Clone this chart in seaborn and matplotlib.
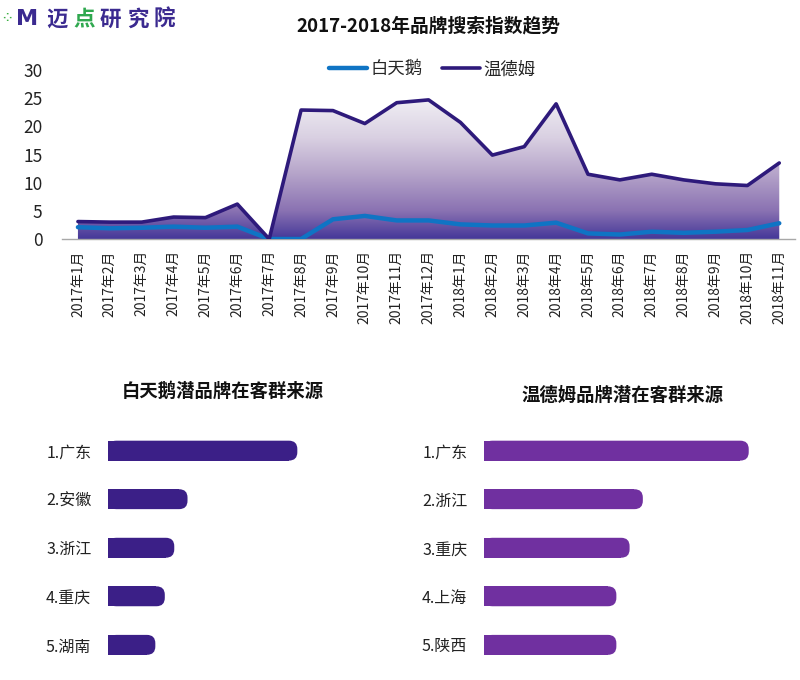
import numpy as np
import pandas as pd
import seaborn as sns
import matplotlib.pyplot as plt
from matplotlib.colors import LinearSegmentedColormap
from matplotlib.patches import FancyBboxPatch

# Data
months = ['2017年%d月' % m for m in range(1, 13)] + ['2018年%d月' % m for m in range(1, 12)]
baitiane = [2.1, 1.9, 2.0, 2.2, 2.0, 2.2, 0.0, 0.0, 3.5, 4.1, 3.3, 3.3,
            2.6, 2.4, 2.4, 2.9, 1.0, 0.8, 1.3, 1.1, 1.3, 1.6, 2.8]
wendemu = [3.1, 3.0, 3.0, 3.9, 3.8, 6.2, 0.0, 22.9, 22.8, 20.5, 24.2, 24.7,
           20.7, 14.9, 16.4, 24.0, 11.5, 10.5, 11.5, 10.5, 9.8, 9.5, 13.5]

bt_regions = ['1.广东', '2.安徽', '3.浙江', '4.重庆', '5.湖南']
bt_values = [100, 42, 35, 30, 25]
wd_regions = ['1.广东', '2.浙江', '3.重庆', '4.上海', '5.陕西']
wd_values = [100, 60, 55, 50, 50]

sns.set_theme(style='white')
plt.rcParams['font.family'] = ['Noto Sans CJK SC', 'DejaVu Sans']
plt.rcParams['axes.unicode_minus'] = False

fig = plt.figure(figsize=(8, 6.8), dpi=100)

# ---- top trend chart
ax = fig.add_axes([0.0775, 0.6485, 0.9165, 0.2485])
df = pd.DataFrame({'x': np.arange(len(months)), '白天鹅': baitiane, '温德姆': wendemu})

# gradient fill under 温德姆
cmap = LinearSegmentedColormap.from_list('grad', [
    (0.0, '#453899'), (0.2, '#8a72b2'), (0.48, '#b8a7cb'),
    (0.72, '#d9d0e2'), (1.0, '#f1eff4')])
grad = np.linspace(0, 1, 256).reshape(-1, 1)
poly = ax.fill_between(df['x'], 0, df['温德姆'], color='none', lw=0)
img = ax.imshow(grad, cmap=cmap, origin='lower', aspect='auto',
                extent=[-0.5, 22.5, 0, 25], zorder=1)
img.set_clip_path(poly.get_paths()[0], transform=ax.transData)

sns.lineplot(data=df, x='x', y='白天鹅', color='#0f74c4', lw=3.2, ax=ax,
             label='白天鹅', zorder=3, solid_capstyle='round')
sns.lineplot(data=df, x='x', y='温德姆', color='#2e1a7b', lw=2.6, ax=ax,
             label='温德姆', zorder=4, solid_capstyle='round')

ax.set_xlim(-0.5, 22.5)
ax.set_ylim(0, 30)
ax.set_yticks(range(0, 31, 5))
ax.set_xticks(df['x'])
ax.set_xticklabels(months, rotation=90, fontsize=10, color='#222222')
ax.tick_params(axis='y', labelsize=12.5, colors='#222222', pad=14, length=0)
ax.tick_params(axis='x', pad=8, length=0)
ax.set_xlabel('')
ax.set_ylabel('')
for s in ['top', 'right', 'left']:
    ax.spines[s].set_visible(False)
ax.spines['bottom'].set_color('#a8a8a8')
ax.spines['bottom'].set_linewidth(1)
ax.legend(loc='center', bbox_to_anchor=(0.54, 0.898), bbox_transform=fig.transFigure,
          ncol=2, frameon=False, fontsize=12.5, handlelength=2.2, handletextpad=0.2,
          columnspacing=1.1)

fig.text(0.535, 0.962, '2017-2018年品牌搜索指数趋势', ha='center', va='center',
         fontsize=13.5, fontweight='bold', color='#111111')

# logo
fig.text(0.003, 0.974, '⁘', color='#3cb043', fontsize=8, fontweight='bold', va='center',
         family=['DejaVu Sans'])
fig.text(0.02, 0.972, 'M', color='#3b2a90', fontsize=16, fontweight='heavy', va='center',
         family=['DejaVu Sans'])
logo = [('迈', '#3b2a90'), ('点', '#2fa84f'), ('研', '#3b2a90'), ('究', '#3b2a90'), ('院', '#3b2a90')]
for i, (ch, c) in enumerate(logo):
    fig.text(0.058 + i * 0.0335, 0.972, ch, color=c, fontsize=15.5, fontweight='heavy',
             va='center')


# ---- bottom bar charts
def round_bars(a, color):
    for p in list(a.patches):
        x0, y0, w, h = p.get_x(), p.get_y(), p.get_width(), p.get_height()
        p.set_visible(False)
        bb = a.get_window_extent()
        xr = a.get_xlim()[1] - a.get_xlim()[0]
        yr = abs(a.get_ylim()[1] - a.get_ylim()[0])
        # data units per pixel in y vs x
        asp = (yr / bb.height) / (xr / bb.width)
        rx = h * 0.42 / asp
        a.add_patch(plt.Rectangle((x0, y0), w - rx, h, color=color, lw=0))
        a.add_patch(FancyBboxPatch((x0, y0), w, h,
                                   boxstyle='round,pad=0,rounding_size=%f' % rx,
                                   mutation_aspect=asp, color=color, lw=0))


def bar_panel(rect, regions, values, color, xmax, title, tx, ty):
    a = fig.add_axes(rect)
    bd = pd.DataFrame({'region': regions, 'value': values})
    sns.barplot(data=bd, x='value', y='region', color=color, orient='h',
                width=0.41, saturation=1, ax=a)
    a.set_xlim(0, xmax)
    a.set_ylim(4.5, -0.5)
    a.set_xticks([])
    a.set_xlabel('')
    a.set_ylabel('')
    a.tick_params(axis='y', length=0, labelsize=11.5, colors='#222222', pad=12)
    sns.despine(ax=a, left=True, bottom=True)
    round_bars(a, color)
    fig.text(tx, ty, title, ha='center', va='center', fontsize=13.2,
             fontweight='bold', color='#111111')
    return a


bar_panel([0.135, 0.016, 0.284, 0.357], bt_regions, bt_values, '#3b1f87', 120,
          '白天鹅潜品牌在客群来源', 0.278, 0.424)
bar_panel([0.605, 0.016, 0.364, 0.357], wd_regions, wd_values, '#7030a0', 110,
          '温德姆品牌潜在客群来源', 0.778, 0.419)

fig.savefig('out.png', dpi=100)
